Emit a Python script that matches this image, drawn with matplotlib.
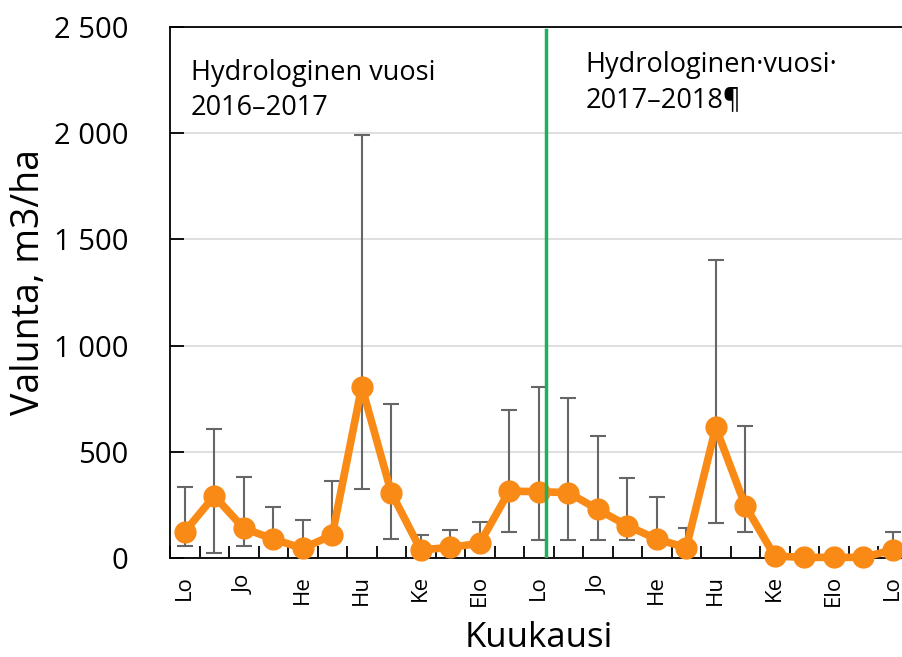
import numpy as np
import matplotlib
matplotlib.use("Agg")
import matplotlib.pyplot as plt

# monthly runoff, Oct 2016 .. Oct 2018
months = ["Lo", "Ma", "Jo", "Ta", "He", "Maa", "Hu", "Tou", "Ke", "Hei", "Elo", "Sy",
          "Lo", "Ma", "Jo", "Ta", "He", "Maa", "Hu", "Tou", "Ke", "Hei", "Elo", "Sy",
          "Lo"]
runoff = [124, 292, 140, 89, 45, 108, 807, 308, 38, 50, 69, 315,
          312, 308, 229, 152, 89, 49, 615, 246, 9, 3, 3, 3, 38]
err_low = [58, 25, 58, 62, 25, 85, 326, 89, 22, 32, 50, 121,
           86, 83, 83, 86, 68, 32, 166, 124, 9, 3, 3, 3, 22]
err_high = [336, 607, 383, 240, 177, 362, 1990, 723, 110, 130, 170, 695,
            805, 752, 573, 375, 289, 140, 1403, 621, 9, 3, 3, 3, 121]

year_split = 12.25
label1 = "Hydrologinen vuosi\n2016–2017"
label2 = "Hydrologinen·vuosi·\n2017–2018¶"

plt.rcParams["font.family"] = ["Open Sans", "DejaVu Sans"]

orange = "#F98A16"
green = "#1DB25A"
err_color = "#666666"

fig = plt.figure(figsize=(9.02, 6.57), dpi=100)
ax = fig.add_axes([170 / 902, 99 / 657, 737.5 / 902, 531 / 657])

x = np.arange(len(runoff))
y = np.array(runoff)
yerr = [y - np.array(err_low), np.array(err_high) - y]

ax.errorbar(x, y, yerr=yerr, fmt="none", ecolor=err_color, elinewidth=1.5,
            capsize=6, capthick=1.5, zorder=2)
ax.plot(x, y, color=orange, linewidth=5.5, marker="o", markersize=15,
        zorder=3, clip_on=False)

ax.axvline(year_split, ymin=0, ymax=0.995, color=green, linewidth=2.5, zorder=4)

ax.set_ylim(0, 2500)
ax.set_xlim(-0.5, len(runoff) - 0.5)
ax.set_yticks([0, 500, 1000, 1500, 2000, 2500])
ax.set_yticklabels([f"{v:,}".replace(",", " ") for v in [0, 500, 1000, 1500, 2000, 2500]])
ax.yaxis.grid(True, color="#d9d9d9", linewidth=1.2)
ax.set_axisbelow(True)

# ticks at category boundaries, labels on every other month
ax.set_xticks(np.arange(len(runoff)) - 0.5)
ax.set_xticklabels([])
ax.set_xticks(x[::2], minor=True)
ax.set_xticklabels(months[::2], minor=True, rotation=90, fontsize=16)
ax.tick_params(axis="x", which="major", direction="in", length=9, width=1.3)
ax.tick_params(axis="x", which="minor", length=0, pad=12)
ax.tick_params(axis="y", direction="in", length=10, width=1.3, labelsize=21, pad=30)
for lab in ax.get_yticklabels():
    lab.set_horizontalalignment("right")

for side in ["left", "bottom", "top"]:
    ax.spines[side].set_linewidth(1.3)
    ax.spines[side].set_color("black")
ax.spines["right"].set_visible(False)

ax.set_ylabel("Valunta, m3/ha", fontsize=27)
ax.yaxis.set_label_coords(-0.166, 0.52)
ax.set_xlabel("Kuukausi", fontsize=25, labelpad=11)

ax.text(0.028, 0.94, label1, transform=ax.transAxes, fontsize=19.5,
        va="top", ha="left", linespacing=1.35)
ax.text(0.563, 0.955, label2, transform=ax.transAxes, fontsize=19.5,
        va="top", ha="left", linespacing=1.35)

fig.savefig("out.png", dpi=100)
